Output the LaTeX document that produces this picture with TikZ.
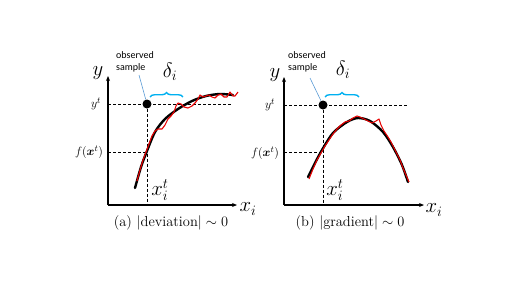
\documentclass[tikz,border=0pt]{standalone}
\usepackage{amsmath}
\usepackage{fontspec}
\newfontfamily\notefont{Carlito}
\usetikzlibrary{arrows.meta,decorations.pathreplacing}
\definecolor{bracecyan}{RGB}{0,176,240}
\definecolor{pointerblue}{RGB}{91,155,213}
\definecolor{noisered}{RGB}{232,0,0}
\tikzset{
  axis/.style={line width=1.4pt, -{Stealth[length=5pt,width=4pt]}},
  guide/.style={line width=0.8pt, dash pattern=on 3pt off 2pt},
  truth/.style={line width=2.4pt, line cap=round},
  noisy/.style={line width=1.1pt, noisered, line join=round},
  obsdot/.style={circle, fill=black, inner sep=0pt, minimum size=9pt},
  bracemark/.style={line width=1.4pt, bracecyan, decorate, decoration={brace, amplitude=4.5pt}},
  pointer/.style={line width=0.6pt, pointerblue},
  biglabel/.style={font=\fontsize{20}{24}\selectfont, inner sep=0pt},
  smalllabel/.style={font=\fontsize{13}{15}\selectfont, inner sep=0pt},
  notelabel/.style={font=\notefont\fontsize{10}{12.5}\selectfont, align=left, inner sep=0pt},
  captionlabel/.style={font=\fontsize{14.5}{17}\selectfont, inner sep=0pt}
}
\begin{document}
\begin{tikzpicture}[x=1pt, y=-1pt]
  \useasboundingbox (0,0) rectangle (523,295);

  % (a) deviation
  \coordinate (oa) at (108,205);
  \coordinate (ya) at (108,76);
  \coordinate (xa) at (237,205);
  \node[obsdot] (dota) at (147,104) {};
  \draw[guide] (oa |- dota) -- (232,104);
  \draw[guide] (dota) -- (dota |- oa);
  \draw[guide] (108,152) -- (147,152);
  \draw[axis] (oa) -- (ya);
  \draw[axis] (oa) -- (xa);
  \draw[truth] plot[smooth] coordinates {(135,188) (141,167) (147,151) (155,132) (165,119) (178,109) (192,101) (206,96) (220,94) (233,95)};
  \draw[noisy] plot coordinates {(137,181) (140,170) (143,160) (146,152) (149,144) (152,136) (155,131) (158,129) (162,129) (165,125) (168,119) (171,116) (174,112) (176,106) (178,103) (181,104) (184,107) (188,108) (192,106) (195,103) (198,99) (200,95) (203,97) (206,96) (209,95) (212,97) (215,98) (218,95) (221,94) (224,97) (227,97) (230,92) (233,96) (235,96) (238,92)};
  \draw[bracemark] (150,97) -- (183,97);
  \node[notelabel, anchor=west] (obsa) at (116,62) {observed\\sample};
  \coordinate (taila) at (139,75);
  \draw[pointer] (taila) -- (dota);
  \node[biglabel] (deltaa) at (170,72) {$\delta_i$};
  \node[biglabel] (laby) at (98,73) {$y$};
  \node[smalllabel] (labyta) at (96,104) {$y^t$};
  \node[smalllabel] (labfa) at (89,152) {$f(\boldsymbol{x}^t)$};
  \node[biglabel] (labxta) at (160,190) {$x_i^t$};
  \node[biglabel] (labxa) at (248,209) {$x_i$};
  \node[captionlabel] (capa) at (171,223) {(a) $|\text{deviation}| \sim 0$};

  % (b) gradient
  \coordinate (ob) at (284,205);
  \coordinate (yb) at (284,77);
  \coordinate (xb) at (424,205);
  \node[obsdot] (dotb) at (323,105) {};
  \draw[guide] (ob |- dotb) -- (407,105);
  \draw[guide] (dotb) -- (dotb |- ob);
  \draw[guide] (284,152) -- (323,152);
  \draw[axis] (ob) -- (yb);
  \draw[axis] (ob) -- (xb);
  \draw[truth] plot[smooth] coordinates {(308,177) (315,163) (322,150) (333,133) (347,122) (358,118) (370,121) (383,132) (393,147) (402,165) (408,182)};
  \draw[noisy] plot coordinates {(309,179) (313,169) (317,160) (321,153) (325,146) (329,140) (333,134) (337,129) (341,125) (345,122) (349,121) (353,118) (357,116) (360,117) (364,119) (368,121) (372,123) (376,121) (379,119) (381,125) (384,131) (388,137) (391,142) (394,148) (397,154) (400,160) (403,168) (406,175) (409,182)};
  \draw[bracemark] (325,97) -- (359,97);
  \node[notelabel, anchor=west] (obsb) at (288,62) {observed\\sample};
  \coordinate (tailb) at (310,78);
  \draw[pointer] (tailb) -- (dotb);
  \node[biglabel] (deltab) at (343,70) {$\delta_i$};
  \node[biglabel] (labyb) at (275,75) {$y$};
  \node[smalllabel] (labytb) at (270,105) {$y^t$};
  \node[smalllabel] (labfb) at (265,153) {$f(\boldsymbol{x}^t)$};
  \node[biglabel] (labxtb) at (335,190) {$x_i^t$};
  \node[biglabel] (labxb) at (434,210) {$x_i$};
  \node[captionlabel] (capb) at (350,223) {(b) $|\text{gradient}| \sim 0$};
\end{tikzpicture}
\end{document}
